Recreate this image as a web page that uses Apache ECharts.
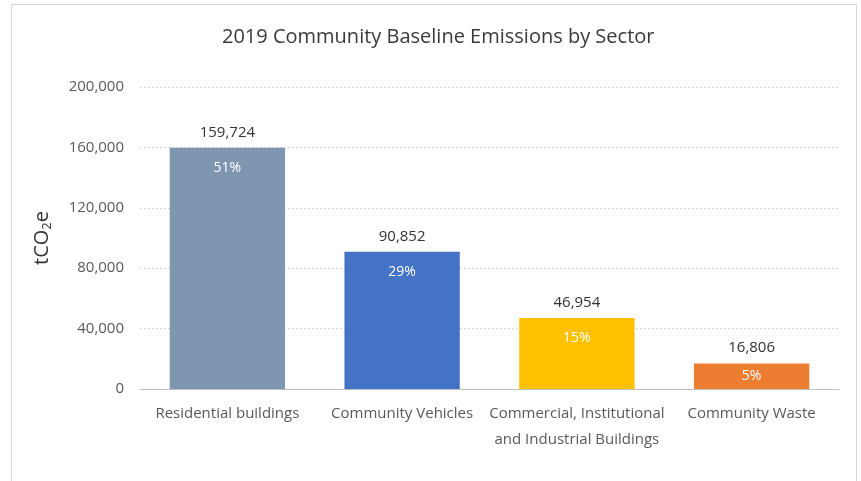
<!DOCTYPE html>
<html>
<head>
<meta charset="utf-8">
<script src="https://cdn.jsdelivr.net/npm/echarts@6/dist/echarts.min.js"></script>
<style>
html,body{margin:0;padding:0;background:#fff;}
#chart{width:861px;height:481px;}
</style>
</head>
<body>
<div id="chart"></div>
<script>
const categories = ['Residential buildings', 'Community Vehicles', 'Commercial, Institutional\nand Industrial Buildings', 'Community Waste'];
const values = [159724, 90852, 46954, 16806];
const shares = ['51%', '29%', '15%', '5%'];
const colors = ['#7F96B0', '#4472C4', '#FFC000', '#ED7D31'];
const yTicks = [0, 40000, 80000, 120000, 160000, 200000];

const font = '"Open Sans", "Noto Sans", sans-serif';
const chart = echarts.init(document.getElementById('chart'));
chart.setOption({
  animation: false,
  textStyle: { fontFamily: font },
  graphic: [{
    type: 'rect',
    shape: { x: 11.5, y: 4.5, width: 845, height: 500 },
    style: { fill: 'none', stroke: '#d9d9d9', lineWidth: 1 },
    silent: true
  }],
  title: {
    text: '2019 Community Baseline Emissions by Sector',
    left: 217,
    top: 22,
    textStyle: { fontFamily: font, fontSize: 20, fontWeight: 'normal', color: '#3a3a3a' }
  },
  grid: { left: 140, right: 22, top: 87, bottom: 92, containLabel: false },
  xAxis: {
    type: 'category',
    data: categories,
    axisLine: { lineStyle: { color: '#bfbfbf' } },
    axisTick: { show: false },
    axisLabel: { color: '#595959', fontSize: 15, fontFamily: font, margin: 12, lineHeight: 26, interval: 0 }
  },
  yAxis: {
    type: 'value',
    min: yTicks[0],
    max: yTicks[yTicks.length - 1],
    interval: 40000,
    name: '{t|tCO}{s|2}{t|e}',
    nameLocation: 'middle',
    nameGap: 86,
    nameRotate: 90,
    nameTextStyle: {
      rich: {
        t: { fontSize: 20, color: '#333333', fontFamily: font },
        s: { fontSize: 13, color: '#333333', fontFamily: font, verticalAlign: 'bottom', padding: [10, 0, 0, 0] }
      }
    },
    axisLine: { show: false },
    axisTick: { show: false },
    splitLine: { lineStyle: { color: '#d9d9d9', type: [2, 2] } },
    axisLabel: {
      color: '#595959', fontSize: 15, fontFamily: font, margin: 16,
      formatter: v => v.toLocaleString('en-US')
    }
  },
  series: [{
    type: 'bar',
    barWidth: '66%',
    data: values.map((v, i) => ({ value: v, itemStyle: { color: colors[i] } })),
    label: {
      show: true,
      position: 'top',
      distance: 8,
      color: '#333333',
      fontSize: 15,
      fontFamily: font,
      formatter: p => p.value.toLocaleString('en-US')
    },
    z: 2
  }, {
    type: 'bar',
    barWidth: '66%',
    barGap: '-100%',
    data: values.map((v, i) => i === values.length - 1 ? { value: v, label: { position: 'inside' } } : v),
    itemStyle: { color: 'transparent' },
    label: {
      show: true,
      position: 'insideTop',
      distance: 13,
      color: '#ffffff',
      fontSize: 14,
      fontFamily: font,
      formatter: p => shares[p.dataIndex]
    },
    silent: true,
    z: 3
  }]
});
</script>
</body>
</html>
